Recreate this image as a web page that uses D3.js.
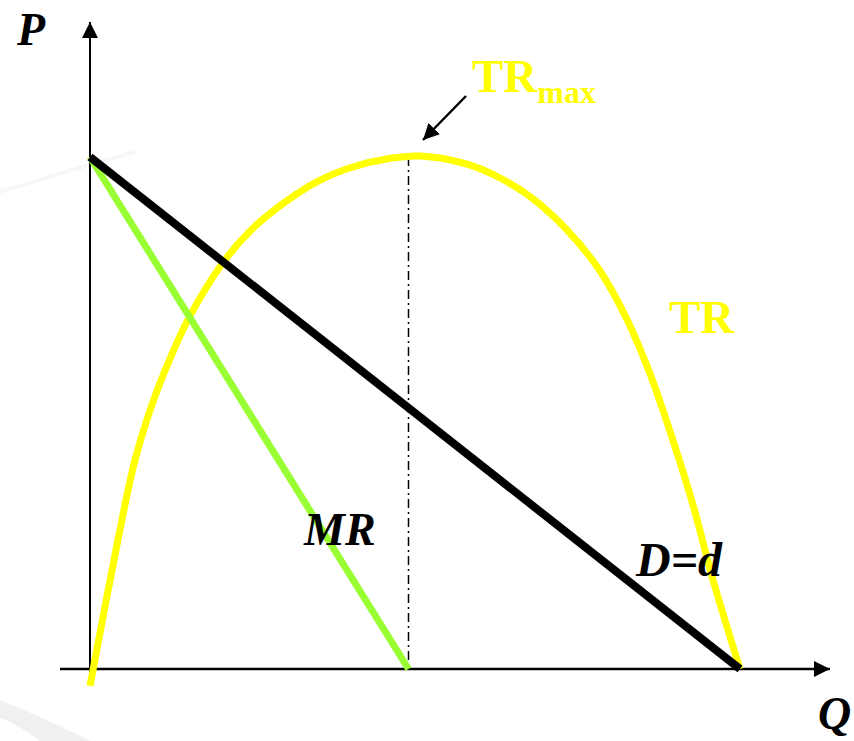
<!DOCTYPE html>
<html>
<head>
<meta charset="utf-8">
<script src="https://cdn.jsdelivr.net/npm/d3@7"></script>
<style>
  body { margin: 0; background: #fff; }
  svg { display: block; }
  text { font-family: "Liberation Serif", "Times New Roman", serif; font-weight: bold; }
</style>
</head>
<body>
<svg id="chart"></svg>
<script>
const w = 854, h = 741;

// Data (i "enheder": Q fra 0 til 10, P fra 0 til 10)
const demandQ = [0, 10];
const demandP = [10, 0];
const mrQ = [0, 4.9];
const mrP = [10, 0];
const trQ = [0, 0.43, 0.69, 0.95, 1.2, 1.51, 2.03, 2.49, 3.0, 3.51, 4.03, 4.6, 5.08, 5.8, 6.31, 6.82, 7.34, 7.85, 8.26, 8.62, 8.97, 9.28, 9.58, 10];
const trVal = [-0.33, 2.52, 4.07, 5.15, 5.97, 6.83, 7.91, 8.59, 9.12, 9.53, 9.8, 9.97, 10.02, 9.86, 9.59, 9.18, 8.57, 7.77, 6.83, 5.75, 4.46, 3.19, 1.76, 0];
const trMaxQ = 4.9;

const svg = d3.select("#chart").attr("width", w).attr("height", h);

// Skalaer
const xScale = d3.scaleLinear().domain([0, 10]).range([90, 740]);
const yScale = d3.scaleLinear().domain([0, 10]).range([669, 157]);

// svag baggrunds-dekoration (fra slide-skabelonen)
svg.append("path")
  .attr("d", "M0,192 C40,180 90,164 135,152")
  .attr("stroke", "#f7f7f7").attr("stroke-width", 4).attr("fill", "none");
svg.append("path")
  .attr("d", "M0,700 C30,712 65,728 90,741 L40,741 C25,730 12,722 0,718 Z")
  .attr("fill", "#eff1f1");

// pilespids
const defs = svg.append("defs");
defs.append("marker")
  .attr("id", "arrow")
  .attr("viewBox", "0 0 10 10")
  .attr("refX", 10).attr("refY", 5)
  .attr("markerWidth", 16).attr("markerHeight", 16)
  .attr("markerUnits", "userSpaceOnUse")
  .attr("orient", "auto")
  .append("path")
  .attr("d", "M0,0 L10,5 L0,10 Z")
  .attr("fill", "#000");

// Akser
svg.append("line")
  .attr("x1", xScale(0)).attr("y1", 682)
  .attr("x2", xScale(0)).attr("y2", 22)
  .attr("stroke", "#000").attr("stroke-width", 2)
  .attr("marker-end", "url(#arrow)");
svg.append("line")
  .attr("x1", 60).attr("y1", yScale(0))
  .attr("x2", 830).attr("y2", yScale(0))
  .attr("stroke", "#000").attr("stroke-width", 2.5)
  .attr("marker-end", "url(#arrow)");

// stiplet linje ved TRmax
svg.append("line")
  .attr("x1", xScale(trMaxQ)).attr("y1", yScale(10))
  .attr("x2", xScale(trMaxQ)).attr("y2", yScale(0))
  .attr("stroke", "#000").attr("stroke-width", 1.5)
  .attr("stroke-dasharray", "9,4,2,4");

const line = d3.line()
  .x(function (d) { return xScale(d[0]); })
  .y(function (d) { return yScale(d[1]); });

// TR kurve
const trData = d3.zip(trQ, trVal);
svg.append("path")
  .datum(trData)
  .attr("d", line.curve(d3.curveCatmullRom))
  .attr("fill", "none")
  .attr("stroke", "#ffff00")
  .attr("stroke-width", 7);

line.curve(d3.curveLinear);

// MR
svg.append("path")
  .datum(d3.zip(mrQ, mrP))
  .attr("d", line)
  .attr("fill", "none")
  .attr("stroke", "#99ff33")
  .attr("stroke-width", 7);

// D=d
svg.append("path")
  .datum(d3.zip(demandQ, demandP))
  .attr("d", line)
  .attr("fill", "none")
  .attr("stroke", "#000")
  .attr("stroke-width", 8);

// pil mod TRmax
svg.append("line")
  .attr("x1", 466).attr("y1", 96)
  .attr("x2", 423).attr("y2", 140)
  .attr("stroke", "#000").attr("stroke-width", 2.5)
  .attr("marker-end", "url(#arrow)");

// Tekster
function label(txt, x, y, size, color, italic) {
  return svg.append("text")
    .attr("x", x).attr("y", y)
    .attr("font-size", size)
    .attr("fill", color)
    .attr("font-style", italic ? "italic" : "normal")
    .text(txt);
}

label("P", 17, 45, 46, "#000", true);
label("Q", 818, 729, 46, "#000", true);
label("MR", 304, 545, 46, "#000", true);
label("D=d", 636, 576, 48, "#000", true);
label("TR", 669, 333, 47, "#ffff00", false);

const trMax = label("TR", 472, 92, 47, "#ffff00", false);
trMax.append("tspan").attr("font-size", 32).attr("dy", 11).text("max");
</script>
</body>
</html>
